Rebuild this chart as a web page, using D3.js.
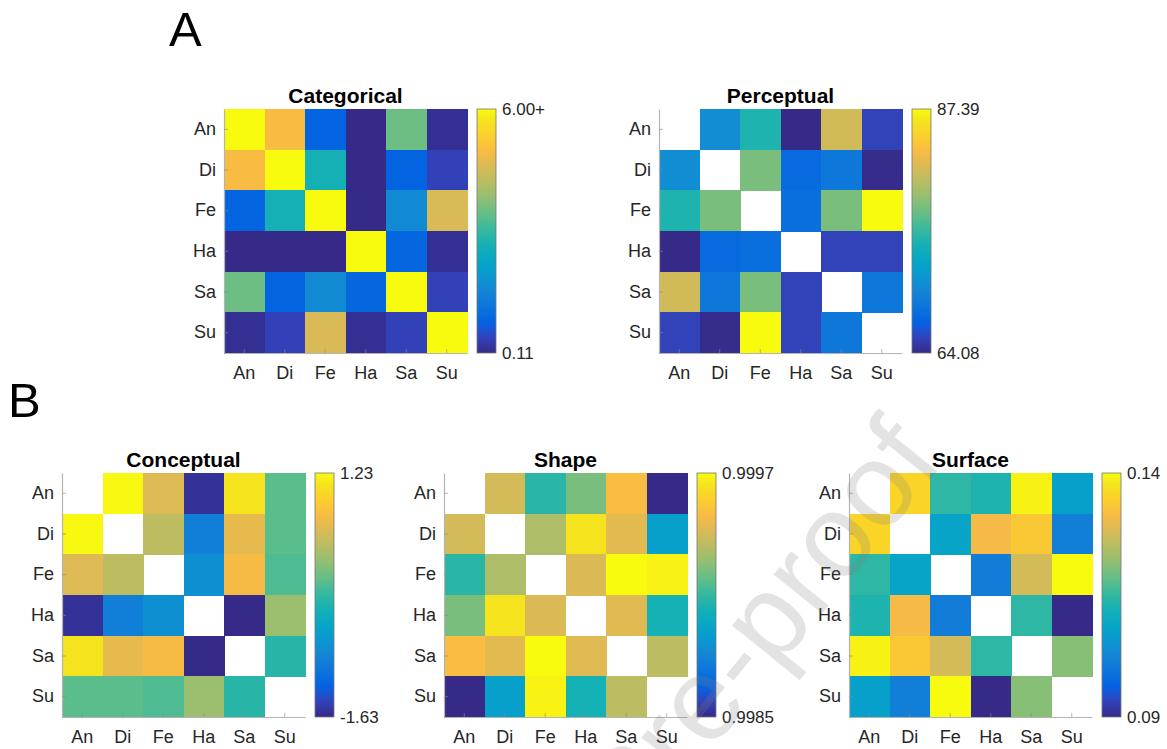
<!DOCTYPE html>
<html>
<head>
<meta charset="utf-8">
<script src="https://cdn.jsdelivr.net/npm/d3@7"></script>
<style>
  body { margin: 0; background: #fff; }
  svg { display: block; font-family: "Liberation Sans", Arial, Helvetica, sans-serif; }
</style>
</head>
<body>
<svg id="fig" width="1167" height="749"></svg>
<script>
// ---- Data -------------------------------------------------------------
const emotions = ["An", "Di", "Fe", "Ha", "Sa", "Su"];

// Categorical model (values at or above 6 are saturated)
const categorical = [
  [6.00, 5.00, 0.87, 0.11, 3.53, 0.20],
  [5.00, 6.00, 2.70, 0.11, 0.87, 0.46],
  [0.87, 2.70, 6.00, 0.11, 1.70, 4.60],
  [0.11, 0.11, 0.11, 6.00, 0.95, 0.20],
  [3.53, 0.87, 1.70, 0.95, 6.00, 0.46],
  [0.20, 0.46, 4.60, 0.20, 0.46, 6.00]
];
const categoricalRange = [0.11, 6.00];
const categoricalTicks = ["0.11", "6.00+"];

// Perceptual dissimilarity (diagonal undefined)
const perceptual = [
  [null, 70.6, 74.8, 64.08, 81.5, 65.55],
  [70.6, null, 78.1, 67.6, 68.8, 64.2],
  [74.8, 78.1, null, 68.0, 78.1, 87.39],
  [64.08, 67.6, 68.0, null, 65.55, 65.55],
  [81.5, 68.8, 78.1, 65.55, null, 68.8],
  [65.55, 64.2, 87.39, 65.55, 68.8, null]
];
const perceptualRange = [64.08, 87.39];
const perceptualTicks = ["64.08", "87.39"];

// Conceptual ratings
const conceptual = [
  [null, 1.21, 0.57, -1.57, 1.09, -0.04],
  [1.21, null, 0.40, -0.97, 0.63, -0.04],
  [0.57, 0.40, null, -0.81, 0.72, -0.09],
  [-1.57, -0.97, -0.81, null, -1.63, 0.23],
  [1.09, 0.63, 0.72, -1.63, null, -0.26],
  [-0.04, -0.04, -0.09, 0.23, -0.26, null]
];
const conceptualRange = [-1.63, 1.23];
const conceptualTicks = ["-1.63", "1.23"];

// Shape similarity
const shape = [
  [null, 0.99940, 0.99908, 0.99922, 0.99950, 0.99850],
  [0.99940, null, 0.99932, 0.99964, 0.99944, 0.99892],
  [0.99908, 0.99932, null, 0.99942, 0.99970, 0.99968],
  [0.99922, 0.99964, 0.99942, null, 0.99943, 0.99903],
  [0.99950, 0.99944, 0.99970, 0.99943, null, 0.99935],
  [0.99850, 0.99892, 0.99968, 0.99903, 0.99935, null]
];
const shapeRange = [0.9985, 0.9997];
const shapeTicks = ["0.9985", "0.9997"];

// Surface similarity
const surface = [
  [null, 0.1355, 0.1145, 0.1130, 0.1390, 0.1075],
  [0.1355, null, 0.1085, 0.1310, 0.1335, 0.1015],
  [0.1145, 0.1085, null, 0.1012, 0.1275, 0.1400],
  [0.1130, 0.1310, 0.1012, null, 0.1145, 0.0900],
  [0.1390, 0.1335, 0.1275, 0.1145, null, 0.1210],
  [0.1075, 0.1015, 0.1400, 0.0900, 0.1210, null]
];
const surfaceRange = [0.09, 0.14];
const surfaceTicks = ["0.09", "0.14"];

// ---- Parula colormap --------------------------------------------------
const parulaIdx = [0, 4, 7, 8, 12, 16, 20, 24, 28, 32, 36, 40, 44, 48, 52, 56, 60, 63];
const parulaHex = ["#352a87", "#3243ba", "#0f5cdd", "#0363e1", "#0d75dc", "#1485d4",
                   "#0998d1", "#06a7c6", "#15b1b4", "#38b99e", "#65be86", "#92bf73",
                   "#b7bd64", "#d9ba56", "#f8bb44", "#fcce2e", "#f5e41d", "#f9fb0e"];
const parula = d3.scaleLinear()
  .domain(parulaIdx.map(i => i / 63))
  .range(parulaHex)
  .interpolate(d3.interpolateRgb)
  .clamp(true);

// ---- Layout -----------------------------------------------------------
const W = 243, H = 244, CB_GAP = 10, CB_W = 19;
const panels = [
  { title: "Categorical", m: categorical, range: categoricalRange, ticks: categoricalTicks, x: 224, y: 109 },
  { title: "Perceptual",  m: perceptual,  range: perceptualRange,  ticks: perceptualTicks,  x: 659, y: 109 },
  { title: "Conceptual",  m: conceptual,  range: conceptualRange,  ticks: conceptualTicks,  x: 62,  y: 473 },
  { title: "Shape",       m: shape,       range: shapeRange,       ticks: shapeTicks,       x: 444, y: 473 },
  { title: "Surface",     m: surface,     range: surfaceRange,     ticks: surfaceTicks,     x: 849, y: 473 }
];

const svg = d3.select("#fig");
const defs = svg.append("defs");

// Vertical parula gradient shared by all colorbars
const grad = defs.append("linearGradient")
  .attr("id", "parulaGrad")
  .attr("x1", 0).attr("y1", 1).attr("x2", 0).attr("y2", 0);
grad.selectAll("stop")
  .data(parulaIdx)
  .join("stop")
  .attr("offset", i => (i / 63 * 100) + "%")
  .attr("stop-color", (i, k) => parulaHex[k]);

panels.forEach(p => {
  const g = svg.append("g").attr("transform", `translate(${p.x},${p.y})`);
  const xs = d3.scaleBand().domain(emotions).range([0, W]);
  const ys = d3.scaleBand().domain(emotions).range([0, H]);
  const t = d3.scaleLinear().domain(p.range).range([0, 1]).clamp(true);

  const cells = [];
  p.m.forEach((row, r) => row.forEach((v, c) => {
    if (v !== null) cells.push({ r: emotions[r], c: emotions[c], v });
  }));

  g.append("g")
    .attr("shape-rendering", "crispEdges")
    .selectAll("rect")
    .data(cells)
    .join("rect")
    .attr("x", d => xs(d.c))
    .attr("y", d => ys(d.r))
    .attr("width", xs.bandwidth() + 0.5)
    .attr("height", ys.bandwidth() + 0.5)
    .attr("fill", d => parula(t(d.v)));

  // Axes with inward ticks
  const xAxis = d3.axisBottom(xs).tickSizeInner(-4).tickSizeOuter(0).tickPadding(13);
  const yAxis = d3.axisLeft(ys).tickSizeInner(-4).tickSizeOuter(0).tickPadding(8);

  const gx = g.append("g").attr("transform", `translate(0,${H})`).call(xAxis);
  const gy = g.append("g").call(yAxis);
  [gx, gy].forEach(a => {
    a.select(".domain").attr("stroke", "#b4b4b4").attr("stroke-width", 1.2);
    a.selectAll(".tick line").attr("stroke", "#8a8a8a").attr("stroke-opacity", 0.6);
    a.selectAll(".tick text")
      .attr("fill", "#262626")
      .style("font-size", "18px")
      .style("font-family", "'Liberation Sans', Arial, sans-serif");
  });

  // Title
  g.append("text")
    .attr("x", W / 2)
    .attr("y", -6)
    .attr("text-anchor", "middle")
    .style("font-size", "21px")
    .style("font-weight", "bold")
    .attr("fill", "#000")
    .text(p.title);

  // Colorbar
  const cb = g.append("g").attr("transform", `translate(${W + CB_GAP},0)`);
  const cs = d3.scaleLinear().domain(p.range).range([H, 0]);
  cb.append("rect")
    .attr("x", 0).attr("y", cs(p.range[1]))
    .attr("width", CB_W).attr("height", cs(p.range[0]) - cs(p.range[1]))
    .attr("fill", "url(#parulaGrad)")
    .attr("stroke", "#777")
    .attr("stroke-width", 0.8);
  cb.selectAll("text.cbl")
    .data([0, 1])
    .join("text")
    .attr("class", "cbl")
    .attr("x", CB_W + 6)
    .attr("y", i => cs(p.range[i]))
    .attr("dy", "0.36em")
    .attr("fill", "#262626")
    .style("font-size", "17px")
    .text(i => p.ticks[i]);
});

// Panel letters
svg.append("text").attr("x", 169).attr("y", 46)
  .style("font-size", "49px").attr("fill", "#000").text("A");
svg.append("text").attr("x", 8).attr("y", 417)
  .style("font-size", "49px").attr("fill", "#000").text("B");

// Manuscript watermark
svg.append("text")
  .attr("transform", "translate(945,462) rotate(-51)")
  .attr("text-anchor", "end")
  .style("font-size", "118px")
  .style("font-family", "'Liberation Sans', Arial, sans-serif")
  .attr("fill", "#7f7f7f")
  .attr("fill-opacity", 0.22)
  .text("Journal Pre-proof");
</script>
</body>
</html>
